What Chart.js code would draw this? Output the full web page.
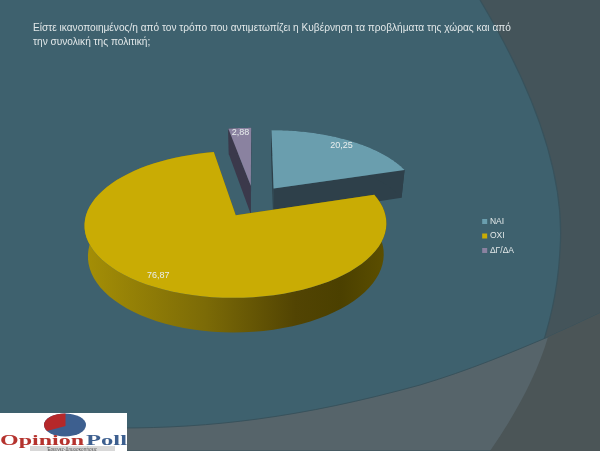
<!DOCTYPE html>
<html>
<head>
<meta charset="utf-8">
<style>
  html, body { margin: 0; padding: 0; background: #3e616e; }
  #stage { position: relative; width: 600px; height: 451px; overflow: hidden; filter: blur(0.35px); }
  #bg, #logo { position: absolute; left: 0; top: 0; }
  #wrap { position: absolute; left: 0; top: 0; width: 600px; height: 451px; }
</style>
</head>
<body>
<div id="stage">
  <svg id="bg" width="600" height="451">
    <rect width="600" height="451" fill="#3e616e"/>
    <path d="M480,0 C528,80 566,170 560,250 C556,330 525,400 490,451 L600,451 L600,0 Z" fill="#44545a"/>
    <path d="M480,0 C528,80 566,170 560,250 C556,330 525,400 490,451" fill="none" stroke="#38525c" stroke-width="1.2"/>
    <path d="M0,428 L120,428 C210,428 300,418 420,385 C470,370 510,353 548,337 Q575,325 600,313 L600,451 L0,451 Z" fill="#56646a" stroke="#38525c" stroke-width="1"/>
    <path d="M548,337 Q575,325 600,313 L600,451 L490,451 C515,415 537,375 548,337 Z" fill="#4b5557"/>
  </svg>
  <div id="wrap"><canvas id="grafico" width="600" height="451"></canvas></div>
  <svg id="logo" width="600" height="451">
    <rect x="0" y="413" width="127" height="38" fill="#ffffff"/>
    <ellipse cx="65" cy="425" rx="21" ry="11.5" fill="#3d5f8f"/>
    <path d="M65.5,426 L65.5,413.5 A21,11.5 0 0 0 44,425 A21,11.5 0 0 0 47,431 Z" fill="#b5282a"/>
    <text x="0" y="445" font-family="Liberation Serif" font-weight="bold" font-size="14" textLength="84" lengthAdjust="spacingAndGlyphs" fill="#b5332e">Opinion</text>
    <text x="86" y="445" font-family="Liberation Serif" font-weight="bold" font-size="14" textLength="41" lengthAdjust="spacingAndGlyphs" fill="#3d5f8f">Poll</text>
    <rect x="30" y="446" width="85" height="5" fill="#d8d8d8"/>
    <text x="72" y="450.5" text-anchor="middle" font-family="Liberation Sans" font-size="4.5" fill="#555555">Έρευνες-Δημοσκοπήσεις</text>
  </svg>
</div>
<script src="https://cdn.jsdelivr.net/npm/chart.js@4/dist/chart.umd.min.js"></script>
<script>
const categorias = ["ΝΑΙ", "ΟΧΙ", "ΔΓ/ΔΑ"]
const valores = [20.25, 76.87, 2.88]
const titulo = [
    "Είστε ικανοποιημένος/η από τον τρόπο που αντιμετωπίζει η Κυβέρνηση τα προβλήματα της χώρας και από",
    "την συνολική της πολιτική;"
]

const coloresCara = ["#6a9eae", "#c9ac04", "#8a82a0"]
const coloresLado = ["#2e404a", "#7a6a05", "#3b394b"]
const radioEtiqueta = [0.89, 0.88, 0.92]

// Parametros de la vista en perspectiva del pastel
const inclinacion = 0.47
const fuga = 0.00085
const grosor = 29.5
const subirCentro = -52
const moverCentro = -1.5

const proyecta = (el, angulo, radio, mid, z) => {
    const off = el.options.offset
    const u = radio * Math.sin(angulo) + off * Math.sin(mid)
    const v = radio * Math.cos(angulo) + off * Math.cos(mid)
    const f = 1 / (1 + v * fuga)
    return {
        x: el.x + moverCentro + u * f * (1 - 0.02 * z),
        y: el.y + subirCentro - inclinacion * v * f + z * grosor * f
    }
}

// El angulo de Chart.js empieza en -90 grados, aqui se mide desde arriba
const angulos = (el) => {
    return { a: el.startAngle + Math.PI / 2, b: el.endAngle + Math.PI / 2 }
}

const bordeArco = (ctx, el, a, b, mid, z, inverso) => {
    const pasos = 80
    for (let i = 0; i <= pasos; i++) {
        const t = inverso ? 1 - i / pasos : i / pasos
        const p = proyecta(el, a + (b - a) * t, el.outerRadius, mid, z)
        ctx.lineTo(p.x, p.y)
    }
}

const dibujaLados = (ctx, el, i) => {
    const { a, b } = angulos(el)
    const mid = (a + b) / 2
    const base = (ang) => {
        const p0 = proyecta(el, ang, 0, mid, 0)
        const p1 = proyecta(el, ang, el.outerRadius, mid, 0)
        const p2 = proyecta(el, ang, el.outerRadius, mid, 1)
        const p3 = proyecta(el, ang, 0, mid, 1)
        ctx.beginPath()
        ctx.moveTo(p0.x, p0.y)
        ctx.lineTo(p1.x, p1.y)
        ctx.lineTo(p2.x, p2.y)
        ctx.lineTo(p3.x, p3.y)
        ctx.closePath()
        ctx.fill()
    }
    ctx.fillStyle = coloresLado[i]
    base(a)
    base(b)

    // Pared exterior, con degradado horizontal en la parte de adelante
    const grad = ctx.createLinearGradient(84, 0, 386, 0)
    if (i === 1) {
        grad.addColorStop(0, "#a58f06")
        grad.addColorStop(0.4, "#7c6b07")
        grad.addColorStop(0.7, "#524403")
        grad.addColorStop(0.85, "#4b4000")
        grad.addColorStop(1, "#5c4f00")
        ctx.fillStyle = grad
    }
    ctx.beginPath()
    bordeArco(ctx, el, a, b, mid, 0, false)
    bordeArco(ctx, el, a, b, mid, 1, true)
    ctx.closePath()
    ctx.fill()
}

const dibujaCara = (ctx, el, i) => {
    const { a, b } = angulos(el)
    const mid = (a + b) / 2
    const c = proyecta(el, a, 0, mid, 0)
    ctx.fillStyle = coloresCara[i]
    ctx.beginPath()
    ctx.moveTo(c.x, c.y)
    bordeArco(ctx, el, a, b, mid, 0, false)
    ctx.closePath()
    ctx.fill()
}

const pastel3d = {
    id: "pastel3d",
    // Reemplaza el dibujo plano de los arcos, usa la geometria que calculo Chart.js
    beforeDatasetDraw(chart, args) {
        const ctx = chart.ctx
        const arcos = args.meta.data
        const orden = [2, 0, 1]
        ctx.save()
        orden.forEach(i => {
            dibujaLados(ctx, arcos[i], i)
            dibujaCara(ctx, arcos[i], i)
        })
        ctx.fillStyle = "#e9eeee"
        ctx.font = "9px 'Liberation Sans'"
        ctx.textAlign = "center"
        ctx.textBaseline = "middle"
        arcos.forEach((el, i) => {
            const { a, b } = angulos(el)
            const mid = (a + b) / 2
            const p = proyecta(el, mid, el.outerRadius * radioEtiqueta[i], mid, 0)
            ctx.fillText(valores[i].toFixed(2).replace(".", ","), p.x, p.y)
        })
        ctx.restore()
        return false
    }
}

const miGrafico = new Chart(document.getElementById("grafico"), {
    type: "pie",
    data: {
        labels: categorias,
        datasets: [{
            data: valores,
            backgroundColor: coloresCara,
            borderWidth: 0,
            offset: 34
        }]
    },
    options: {
        responsive: false,
        animation: false,
        radius: 146,
        layout: { padding: { left: 33, right: 76, top: 21, bottom: 0 } },
        plugins: {
            tooltip: { enabled: false },
            title: {
                display: true,
                text: titulo,
                align: "start",
                color: "#e2e8e9",
                font: { family: "'Liberation Sans'", size: 10.13, weight: "normal", lineHeight: 1.4 },
                padding: { top: 0, bottom: 6 }
            },
            legend: {
                position: "right",
                align: "center",
                labels: {
                    usePointStyle: true,
                    pointStyle: "rect",
                    boxWidth: 2,
                    boxHeight: 5,
                    padding: 6,
                    color: "#e2e8e9",
                    font: { family: "'Liberation Sans'", size: 8.5 }
                }
            }
        }
    },
    plugins: [pastel3d]
})
</script>
</body>
</html>
